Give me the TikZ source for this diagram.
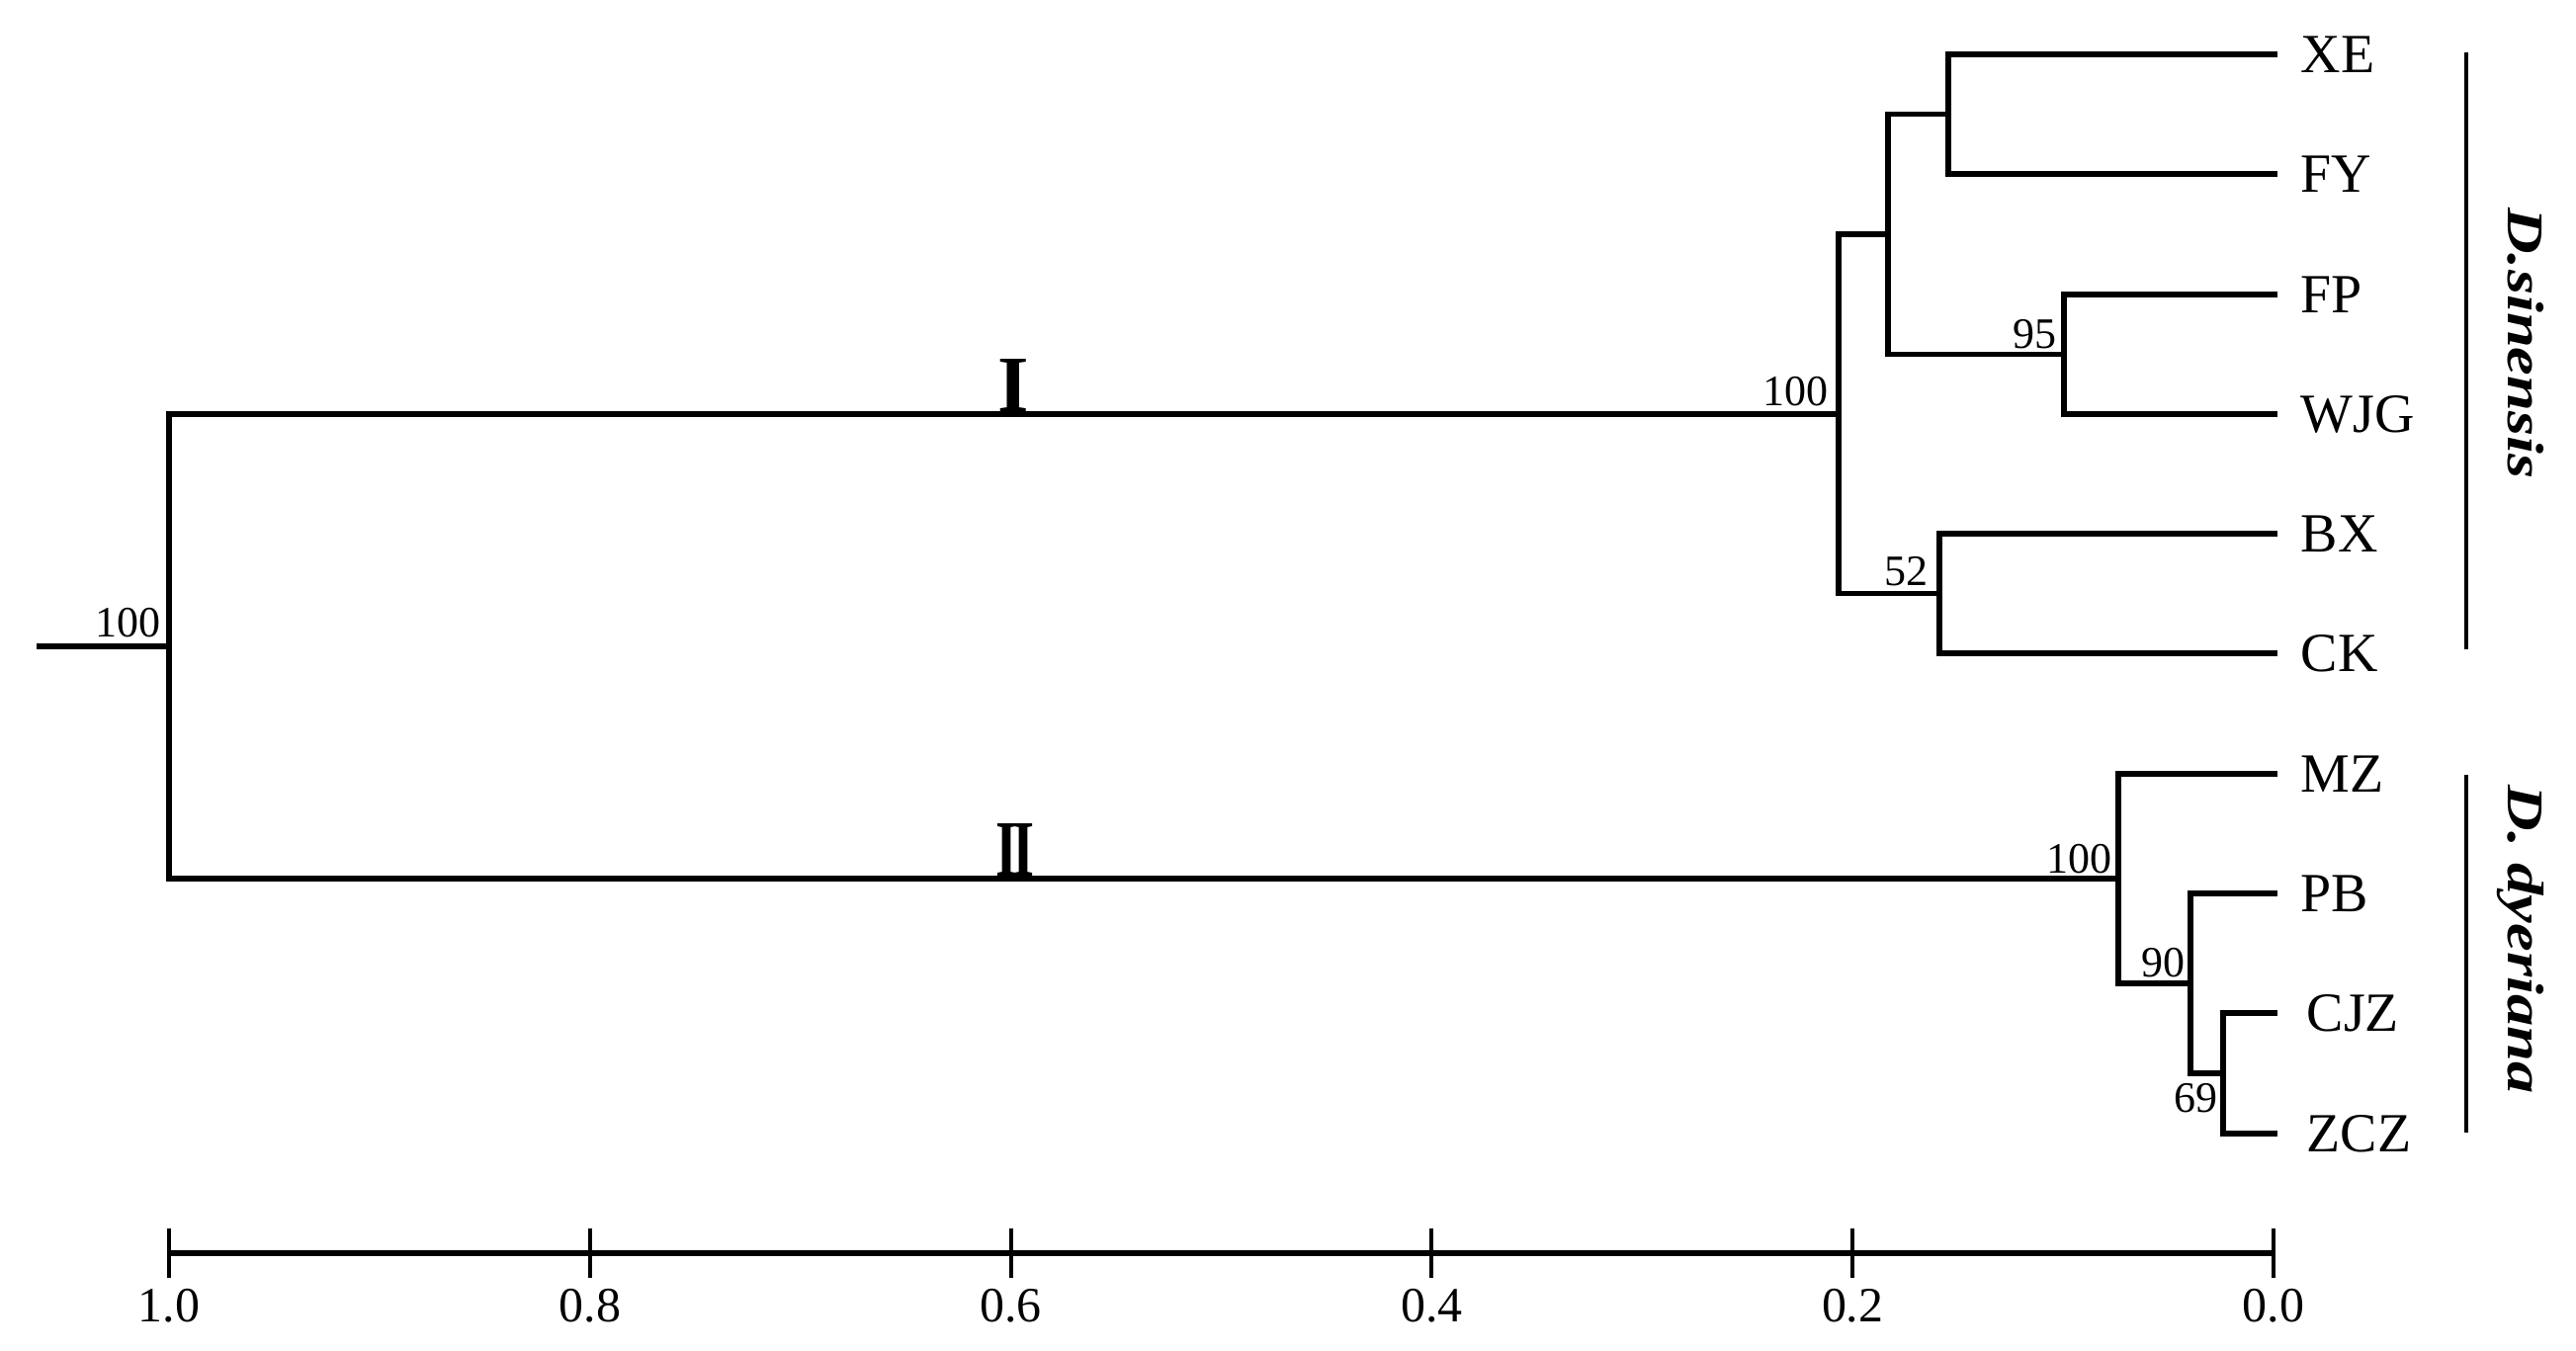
\documentclass[tikz,border=0pt]{standalone}
\usepackage{fontspec}
\setmainfont{Liberation Serif}
\usepackage{graphicx}
\begin{document}
\begin{tikzpicture}[x=0.01cm, y=-0.01cm,
  branch/.style={line width=1.6pt, line join=miter},
  leaf/.style={font=\fontsize{15.9pt}{18pt}\selectfont, anchor=base west, inner sep=0pt},
  support/.style={font=\fontsize{12.5pt}{14pt}\selectfont, anchor=base east, inner sep=0pt},
  ticklabel/.style={font=\fontsize{14.2pt}{16pt}\selectfont, anchor=base, inner sep=0pt},
  clade/.style={font=\fontsize{14.8pt}{17pt}\selectfont\bfseries\itshape, rotate=-90, anchor=base, inner sep=0pt},
  marker/.style={font=\fontsize{23pt}{26pt}\selectfont\bfseries, anchor=base, inner sep=0pt},
  cladebar/.style={line width=1.4pt},
  axisline/.style={line width=1.7pt},
  tickline/.style={line width=1.1pt}
]
\useasboundingbox (0,0) rectangle (2606,1366);

% leaf tips
\coordinate (tXE)  at (2304,55);
\coordinate (tFY)  at (2304,176);
\coordinate (tFP)  at (2304,298);
\coordinate (tWJG) at (2304,419);
\coordinate (tBX)  at (2304,540);
\coordinate (tCK)  at (2304,661);
\coordinate (tMZ)  at (2304,783);
\coordinate (tPB)  at (2304,904);
\coordinate (tCJZ) at (2304,1025);
\coordinate (tZCZ) at (2304,1147);

% internal nodes
\coordinate (nXF)  at (1971,115.5);
\coordinate (nFW)  at (2088,358.5);
\coordinate (nXFW) at (1910,237);
\coordinate (nBC)  at (1962,600.5);
\coordinate (nSin) at (1860,418.75);
\coordinate (nCZ)  at (2249,1086);
\coordinate (nPCZ) at (2216,995);
\coordinate (nDye) at (2143,889);
\coordinate (root) at (171,654);
\coordinate (stub) at (37,654);

% branches
\draw[branch] (tXE) -| (nXF) |- (tFY);
\draw[branch] (tFP) -| (nFW) |- (tWJG);
\draw[branch] (nXF) -| (nXFW) |- (nFW);
\draw[branch] (tBX) -| (nBC) |- (tCK);
\draw[branch] (nXFW) -| (nSin) |- (nBC);
\draw[branch] (tCJZ) -| (nCZ) |- (tZCZ);
\draw[branch] (tPB) -| (nPCZ) |- (nCZ);
\draw[branch] (tMZ) -| (nDye) |- (nPCZ);
\draw[branch] (nSin) -| (root) |- (nDye);
\draw[branch] (stub) -- (root);

% leaf labels
\node[leaf] (lXE)  at (2327,73)   {XE};
\node[leaf] (lFY)  at (2327,194)  {FY};
\node[leaf] (lFP)  at (2327,316)  {FP};
\node[leaf] (lWJG) at (2327,437)  {WJG};
\node[leaf] (lBX)  at (2327,558)  {BX};
\node[leaf] (lCK)  at (2327,679)  {CK};
\node[leaf] (lMZ)  at (2327,801)  {MZ};
\node[leaf] (lPB)  at (2327,922)  {PB};
\node[leaf] (lCJZ) at (2333,1043) {CJZ};
\node[leaf] (lZCZ) at (2333,1165) {ZCZ};

% support values
\node[support] (sRoot) at (163,644)  {100};
\node[support] (sSin)  at (1850,410) {100};
\node[support] (s95)   at (2081,352) {95};
\node[support] (s52)   at (1951,592) {52};
\node[support] (sDye)  at (2137,883) {100};
\node[support] (s90)   at (2211,988) {90};
\node[support] (s69)   at (2244,1125) {69};

% clade markers
\node[marker] (mI)  at (1025,416.5) {I};
\node[marker] (mII) at (1027,886.8) {\scalebox{0.7}[1]{I\kern-0.08em I}};

% clade bars and names
\coordinate (bSinTop) at (2495,53);
\coordinate (bSinBot) at (2495,657);
\coordinate (bDyeTop) at (2495,784);
\coordinate (bDyeBot) at (2495,1146);
\draw[cladebar] (bSinTop) -- (bSinBot);
\draw[cladebar] (bDyeTop) -- (bDyeBot);
\node[clade] (cSin) at (2537,347.5) {\scalebox{1.24}[1]{D.sinensis}};
\node[clade] (cDye) at (2537,950.5) {\scalebox{1.24}[1]{D. dyeriana}};

% scale axis
\coordinate (a10) at (171,1268);
\coordinate (a00) at (2300,1268);
\draw[axisline] (a10) -- (a00);
\foreach \v/\nm [evaluate=\v as \xx using 2300-2129*\v] in {1.0/k10,0.8/k08,0.6/k06,0.4/k04,0.2/k02,0.0/k00} {
  \coordinate (\nm t) at (\xx,1243);
  \coordinate (\nm b) at (\xx,1293);
  \draw[tickline] (\nm t) -- (\nm b);
  \node[ticklabel] (\nm) at (\xx,1337) {\v};
}
\end{tikzpicture}
\end{document}
